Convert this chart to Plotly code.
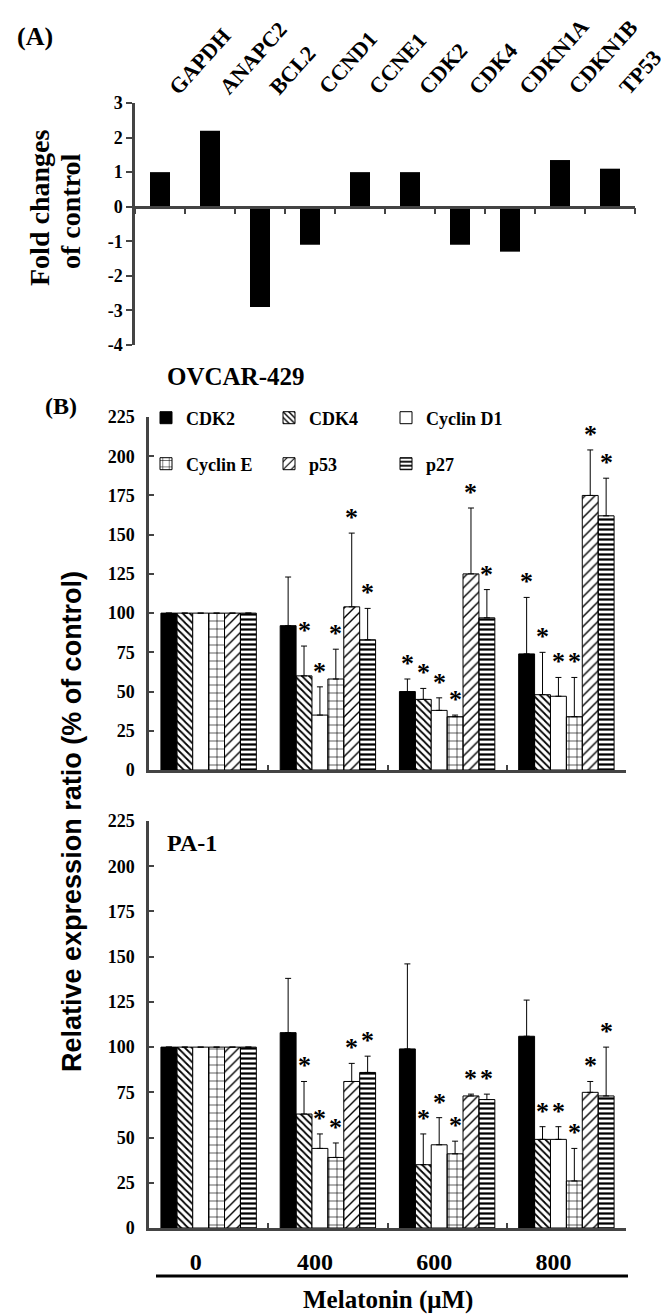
import plotly.graph_objects as go

# ---------------- data ----------------
genes = ["GAPDH", "ANAPC2", "BCL2", "CCND1", "CCNE1", "CDK2", "CDK4", "CDKN1A", "CDKN1B", "TP53"]
fold_change = [1.0, 2.2, -2.9, -1.1, 1.0, 1.0, -1.1, -1.3, 1.35, 1.1]
fold_ticks = [-4, -3, -2, -1, 0, 1, 2, 3]

doses = ["0", "400", "600", "800"]
series = ["CDK2", "CDK4", "Cyclin D1", "Cyclin E", "p53", "p27"]
expr_ticks = [0, 25, 50, 75, 100, 125, 150, 175, 200, 225]

# OVCAR-429: mean (% of control) per series over doses
ovcar_means = [
    [100, 92, 50, 74],
    [100, 60, 45, 48],
    [100, 35, 38, 47],
    [100, 58, 34, 34],
    [100, 104, 125, 175],
    [100, 83, 97, 162],
]
ovcar_errs = [
    [0, 31, 8, 36],
    [0, 19, 7, 27],
    [0, 18, 8, 12],
    [0, 19, 1, 25],
    [0, 47, 42, 29],
    [0, 20, 18, 24],
]
ovcar_stars = [
    [0, 0, 1, 1],
    [0, 1, 1, 1],
    [0, 1, 1, 1],
    [0, 1, 1, 1],
    [0, 1, 1, 1],
    [0, 1, 1, 1],
]

# PA-1
pa1_means = [
    [100, 108, 99, 106],
    [100, 63, 35, 49],
    [100, 44, 46, 49],
    [100, 39, 41, 26],
    [100, 81, 73, 75],
    [100, 86, 71, 73],
]
pa1_errs = [
    [0, 30, 47, 20],
    [0, 18, 17, 7],
    [0, 8, 15, 7],
    [0, 8, 7, 18],
    [0, 10, 1, 6],
    [0, 9, 3, 27],
]
pa1_stars = [
    [0, 0, 0, 0],
    [0, 1, 1, 1],
    [0, 1, 1, 1],
    [0, 1, 1, 1],
    [0, 1, 1, 1],
    [0, 1, 1, 1],
]

# ---------------- styling ----------------
W, H = 669, 1314
SERIF = "Liberation Serif"
SANS = "Liberation Sans"


def fx(p):
    return p / W


def fy(p):
    return 1 - p / H


styles = [
    dict(color="black"),
    dict(color="white", pattern=dict(shape="\\", fgcolor="black", size=5, solidity=0.35)),
    dict(color="white"),
    dict(color="white", pattern=dict(shape="+", fgcolor="black", size=8, solidity=0.15)),
    dict(color="white", pattern=dict(shape="/", fgcolor="black", size=7, solidity=0.2)),
    dict(color="white", pattern=dict(shape="-", fgcolor="black", size=5, solidity=0.45)),
]

fig = go.Figure()

# Panel A: visible bars on the top axis; a transparent copy keeps the
# zero-line axis (x2, with tick marks between genes) alive.
fig.add_trace(go.Bar(x=genes, y=fold_change, width=0.4, marker=dict(color="black", line=dict(width=0)),
                     xaxis="x", yaxis="y", showlegend=False))
fig.add_trace(go.Bar(x=genes, y=fold_change, width=0.4, marker=dict(color="rgba(0,0,0,0)", line=dict(width=0)),
                     xaxis="x2", yaxis="y", showlegend=False, hoverinfo="skip"))

BARGAP = 0.2
nser = len(series)
annotations = []
legend_x = [138, 261, 378]
legend_y = [410, 456]


def add_group(means, errs, stars, xa, ya, legend_on):
    for i, s in enumerate(series):
        m = dict(styles[i])
        m["line"] = dict(color="black", width=1)
        fig.add_trace(go.Bar(
            x=doses, y=means[i], name=s, marker=m,
            error_y=dict(type="data", array=errs[i], arrayminus=[0] * len(doses), symmetric=False,
                         color="black", thickness=1, width=3),
            xaxis=xa, yaxis=ya, showlegend=legend_on,
            legend=("legend" if i == 0 else "legend%d" % (i + 1)),
        ))
        bw = (1 - BARGAP) / nser
        for j in range(len(doses)):
            if stars[i][j]:
                annotations.append(dict(
                    x=j - (1 - BARGAP) / 2 + (i + 0.5) * bw, y=means[i][j] + errs[i][j],
                    xref=xa, yref=ya, text="<b>*</b>", showarrow=False, yanchor="bottom",
                    yshift=-1, font=dict(family=SERIF, size=26, color="black")))


add_group(ovcar_means, ovcar_errs, ovcar_stars, "x3", "y3", True)
add_group(pa1_means, pa1_errs, pa1_stars, "x4", "y4", False)

# domains
a_y0, a_y1 = fy(337), fy(95)
zero_pos = a_y0 + (0 - fold_ticks[0]) / (fold_ticks[-1] - fold_ticks[0]) * (a_y1 - a_y0)
ax_dom = [fx(127), fx(627)]
bx = [fx(141), fx(618)]

tickfont = dict(family=SERIF, size=18, color="black", weight="bold")
legfont = dict(family=SERIF, size=18, color="black", weight="bold")

legends = {}
for i in range(len(series)):
    key = "legend" if i == 0 else "legend%d" % (i + 1)
    legends[key] = dict(x=fx(legend_x[i % 3]), y=fy(legend_y[i // 3]), xanchor="left", yanchor="middle",
                        orientation="h", font=legfont, bgcolor="rgba(0,0,0,0)",
                        itemclick=False, itemdoubleclick=False)

fig.update_layout(
    width=W, height=H, margin=dict(l=0, r=0, t=0, b=0),
    template="none", paper_bgcolor="white", plot_bgcolor="rgba(0,0,0,0)",
    font=dict(family=SERIF, color="black"),
    barmode="group", bargap=BARGAP, bargroupgap=0,
    xaxis=dict(domain=ax_dom, anchor="y", side="top", type="category",
               categoryarray=genes, range=[-0.5, len(genes) - 0.5], ticks="", showline=False,
               showgrid=False, zeroline=False, showticklabels=False),
    yaxis=dict(domain=[a_y0, a_y1], anchor="x", range=[fold_ticks[0], fold_ticks[-1]],
               tickvals=fold_ticks, ticktext=[str(v) for v in fold_ticks], ticks="outside",
               ticklen=6, tickwidth=2, showline=True, linewidth=2.5, zeroline=False, showgrid=False,
               tickfont=tickfont),
    xaxis2=dict(domain=ax_dom, overlaying="x", anchor="free", position=zero_pos, type="category",
                categoryarray=genes, range=[-0.5, len(genes) - 0.5], tickson="boundaries",
                showticklabels=False, ticks="outside", ticklen=6, tickwidth=2, showline=True,
                linewidth=2.5, showgrid=False, zeroline=False),
    xaxis3=dict(domain=bx, anchor="y3", type="category", categoryarray=doses, range=[-0.5, 3.5],
                tickson="boundaries", ticks="inside", ticklen=5, tickwidth=2, showline=True,
                linewidth=2.5, showgrid=False, showticklabels=False),
    yaxis3=dict(domain=[fy(762), fy(409)], anchor="x3", range=[0, 225], tickvals=expr_ticks,
                ticks="inside", ticklen=5, tickwidth=2, showline=True, linewidth=2.5, showgrid=False,
                zeroline=False, tickfont=tickfont, ticklabelstandoff=8),
    xaxis4=dict(domain=bx, anchor="y4", type="category", categoryarray=doses, range=[-0.5, 3.5],
                tickson="boundaries", ticks="inside", ticklen=5, tickwidth=2, showline=True,
                linewidth=2.5, showgrid=False,
                tickfont=dict(family=SERIF, size=24, color="black", weight="bold"),
                ticklabelstandoff=10, ticklabelshift=-13),
    yaxis4=dict(domain=[fy(1220), fy(813)], anchor="x4", range=[0, 225], tickvals=expr_ticks,
                ticks="inside", ticklen=5, tickwidth=2, showline=True, linewidth=2.5, showgrid=False,
                zeroline=False, tickfont=tickfont, ticklabelstandoff=8),
    **legends,
)

txt = []

# gene labels, rotated, starting just above each bar
for k, g in enumerate(genes):
    txt.append(dict(text="<b>%s</b>" % g, x=k, y=fy(95), xref="x", yref="paper", showarrow=False,
                    xanchor="left", yanchor="bottom", textangle=-48, xshift=1, yshift=1,
                    font=dict(family=SERIF, size=22, color="black")))


def label(text, x, y, size, family=SERIF, angle=0):
    txt.append(dict(text=text, x=fx(x), y=fy(y), xref="paper", yref="paper", showarrow=False,
                    xanchor="center", yanchor="middle", textangle=angle,
                    font=dict(family=family, size=size, color="black")))


label("<b>(A)</b>", 27, 28, 26)
label("<b>Fold changes</b>", 31, 200, 28, angle=-90)
label("<b>of control</b>", 63, 203, 28, angle=-90)
label("<b>OVCAR-429</b>", 228, 368, 25)
label("<b>(B)</b>", 53, 398, 24)
label("<b>PA-1</b>", 184, 835, 24)
label("<b>Relative expression ratio (% of control)</b>", 64, 814, 27, family=SANS, angle=-90)
label("<b>Melatonin (μM)</b>", 380, 1292, 25)

fig.update_layout(annotations=txt + annotations,
                  shapes=[dict(type="line", xref="paper", yref="paper", x0=fx(148), x1=fx(620),
                               y0=fy(1268), y1=fy(1268), line=dict(color="black", width=3))])

fig.write_html("out.html")
